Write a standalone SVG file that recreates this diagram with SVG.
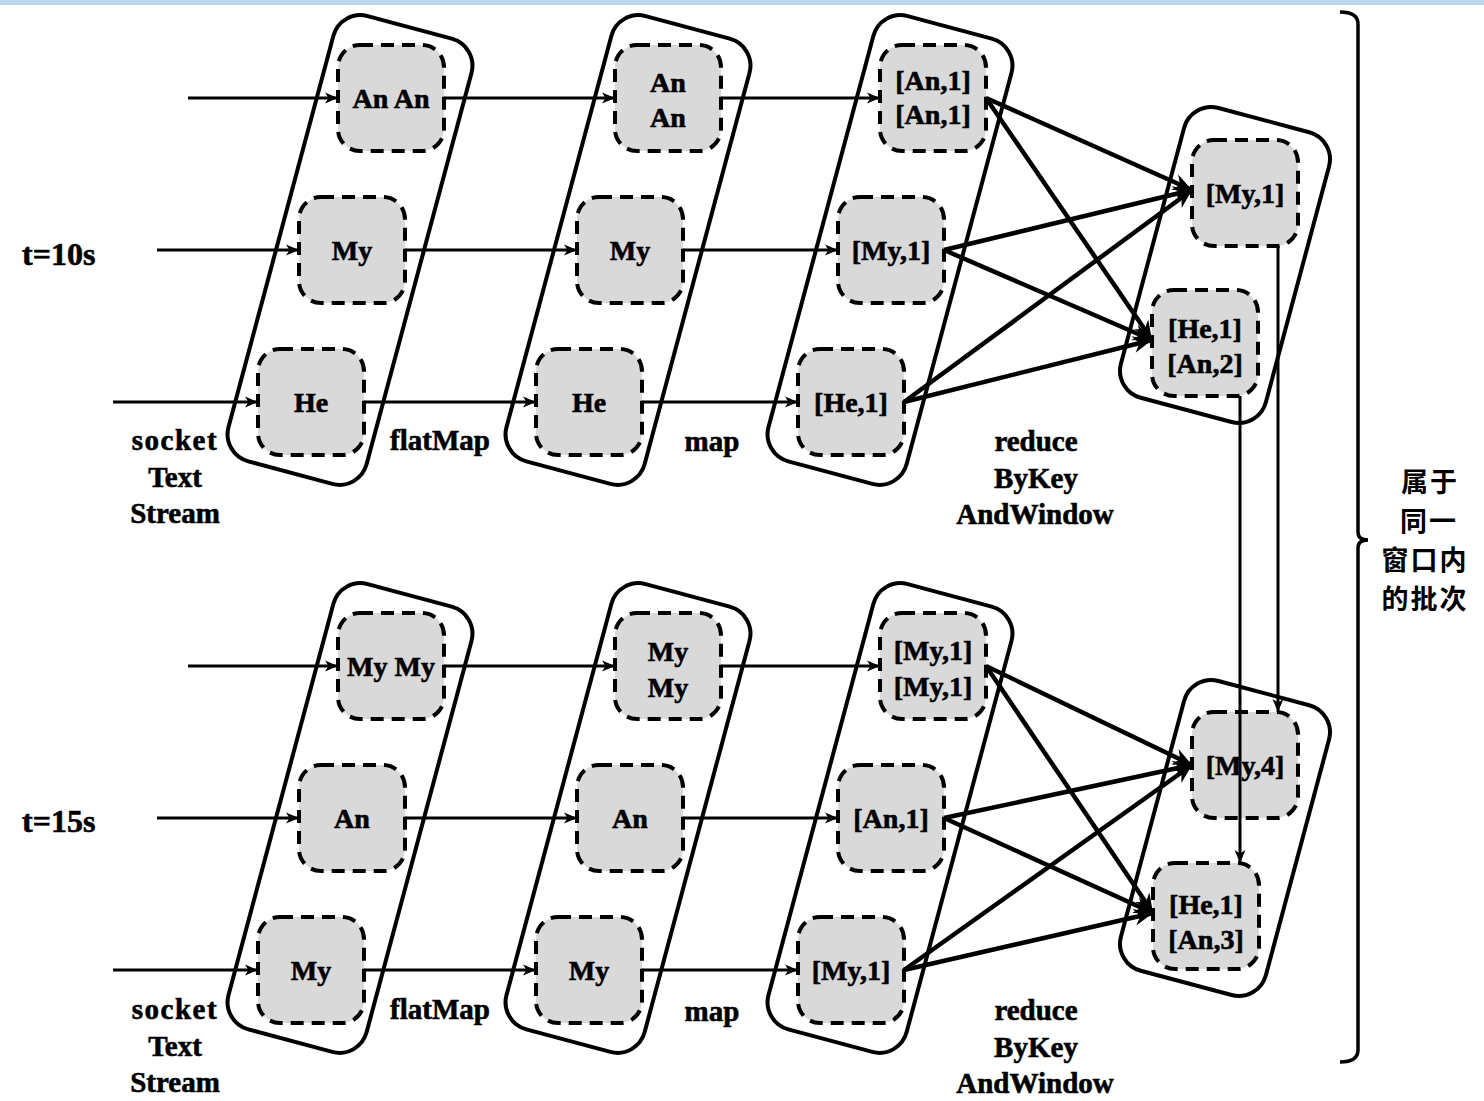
<svg xmlns="http://www.w3.org/2000/svg" width="1484" height="1101" viewBox="0 0 1484 1101">
<style>
.bg{fill:#ffffff}
.band{fill:#bdd7ee}
.stage{fill:none;stroke:#000;stroke-width:4}
.box{fill:#d9d9d9;stroke:#000;stroke-width:4;stroke-dasharray:13 8}
.t{font-family:"Liberation Serif","Times New Roman",serif;font-weight:bold;font-size:28px;fill:#000;stroke:#000;stroke-width:0.6;text-anchor:middle}
.lbl{font-family:"Liberation Serif","Times New Roman",serif;font-weight:bold;font-size:29px;fill:#000;stroke:#000;stroke-width:0.6;text-anchor:middle}
.time{font-family:"Liberation Serif","Times New Roman",serif;font-weight:bold;font-size:32px;fill:#000;stroke:#000;stroke-width:0.6}
.cjk{font-family:"Noto Sans CJK SC","Noto Sans",sans-serif;font-weight:bold;font-size:27px;fill:#000;text-anchor:middle;letter-spacing:2px}
.a{fill:none;stroke:#000;stroke-width:3;marker-end:url(#ah)}
.b{fill:none;stroke:#000;stroke-width:4.5;marker-end:url(#ahb)}
.brace{fill:none;stroke:#000;stroke-width:3.5}
</style>
<defs>
<marker id="ah" viewBox="-15 -7 16 14" refX="0" refY="0" markerWidth="16" markerHeight="14" markerUnits="userSpaceOnUse" orient="auto"><path d="M0,0 L-13,-5.5 L-9.5,0 L-13,5.5 Z" fill="#000"/></marker>
<marker id="ahb" viewBox="-21 -10 22 20" refX="0" refY="0" markerWidth="22" markerHeight="20" markerUnits="userSpaceOnUse" orient="auto"><path d="M0,0 L-19,-8.5 L-13,0 L-19,8.5 Z" fill="#000"/></marker>
</defs>
<rect class="bg" x="0" y="0" width="1484" height="1101"/>
<rect class="band" x="0" y="0" width="1484" height="5"/>

<g id="stages">
<rect id="stage-src-10" class="stage" x="-71.5" y="-230.5" width="143" height="461" rx="28" transform="translate(350,250) rotate(15)"/>
<rect id="stage-flat-10" class="stage" x="-71.5" y="-230.5" width="143" height="461" rx="28" transform="translate(628,250) rotate(15)"/>
<rect id="stage-map-10" class="stage" x="-71.5" y="-230.5" width="143" height="461" rx="28" transform="translate(890,250) rotate(15)"/>
<rect id="stage-red-10" class="stage" x="-75" y="-150" width="150" height="300" rx="28" transform="translate(1225,265) rotate(15)"/>
<rect id="stage-src-15" class="stage" x="-71.5" y="-230.5" width="143" height="461" rx="28" transform="translate(350,818) rotate(15)"/>
<rect id="stage-flat-15" class="stage" x="-71.5" y="-230.5" width="143" height="461" rx="28" transform="translate(628,818) rotate(15)"/>
<rect id="stage-map-15" class="stage" x="-71.5" y="-230.5" width="143" height="461" rx="28" transform="translate(890,818) rotate(15)"/>
<rect id="stage-red-15" class="stage" x="-75" y="-150" width="150" height="300" rx="28" transform="translate(1225,838) rotate(15)"/>
</g>

<!-- t=10s nodes -->
<g id="n-s10-1"><rect class="box" x="338" y="45" width="106" height="106" rx="22"/><text class="t" x="391" y="108">An An</text></g>
<g id="n-s10-2"><rect class="box" x="299" y="197" width="106" height="106" rx="22"/><text class="t" x="352" y="260">My</text></g>
<g id="n-s10-3"><rect class="box" x="258" y="349" width="106" height="106" rx="22"/><text class="t" x="311" y="412">He</text></g>
<g id="n-f10-1"><rect class="box" x="615" y="45" width="106" height="106" rx="22"/><text class="t" x="668" y="92">An</text><text class="t" x="668" y="127">An</text></g>
<g id="n-f10-2"><rect class="box" x="577" y="197" width="106" height="106" rx="22"/><text class="t" x="630" y="260">My</text></g>
<g id="n-f10-3"><rect class="box" x="536" y="349" width="106" height="106" rx="22"/><text class="t" x="589" y="412">He</text></g>
<g id="n-m10-1"><rect class="box" x="880" y="45" width="106" height="106" rx="22"/><text class="t" x="933" y="90">[An,1]</text><text class="t" x="933" y="124">[An,1]</text></g>
<g id="n-m10-2"><rect class="box" x="838" y="197" width="106" height="106" rx="22"/><text class="t" x="891" y="260">[My,1]</text></g>
<g id="n-m10-3"><rect class="box" x="798" y="349" width="106" height="106" rx="22"/><text class="t" x="851" y="412">[He,1]</text></g>
<g id="n-r10-1"><rect class="box" x="1192" y="140" width="106" height="106" rx="22"/><text class="t" x="1245" y="203">[My,1]</text></g>
<g id="n-r10-2"><rect class="box" x="1152" y="290" width="106" height="106" rx="22"/><text class="t" x="1205" y="338">[He,1]</text><text class="t" x="1205" y="373">[An,2]</text></g>

<!-- t=15s nodes -->
<g id="n-s15-1"><rect class="box" x="338" y="613" width="106" height="106" rx="22"/><text class="t" x="391" y="676">My My</text></g>
<g id="n-s15-2"><rect class="box" x="299" y="765" width="106" height="106" rx="22"/><text class="t" x="352" y="828">An</text></g>
<g id="n-s15-3"><rect class="box" x="258" y="917" width="106" height="106" rx="22"/><text class="t" x="311" y="980">My</text></g>
<g id="n-f15-1"><rect class="box" x="615" y="613" width="106" height="106" rx="22"/><text class="t" x="668" y="661">My</text><text class="t" x="668" y="697">My</text></g>
<g id="n-f15-2"><rect class="box" x="577" y="765" width="106" height="106" rx="22"/><text class="t" x="630" y="828">An</text></g>
<g id="n-f15-3"><rect class="box" x="536" y="917" width="106" height="106" rx="22"/><text class="t" x="589" y="980">My</text></g>
<g id="n-m15-1"><rect class="box" x="880" y="613" width="106" height="106" rx="22"/><text class="t" x="933" y="660">[My,1]</text><text class="t" x="933" y="696">[My,1]</text></g>
<g id="n-m15-2"><rect class="box" x="838" y="765" width="106" height="106" rx="22"/><text class="t" x="891" y="828">[An,1]</text></g>
<g id="n-m15-3"><rect class="box" x="798" y="917" width="106" height="106" rx="22"/><text class="t" x="851" y="980">[My,1]</text></g>
<g id="n-r15-1"><rect class="box" x="1192" y="712" width="106" height="106" rx="22"/><text class="t" x="1245" y="775">[My,4]</text></g>
<g id="n-r15-2"><rect class="box" x="1153" y="863" width="106" height="106" rx="22"/><text class="t" x="1206" y="914">[He,1]</text><text class="t" x="1206" y="949">[An,3]</text></g>

<g id="connectors">
<path class="a" d="M188,98 H338"/>
<path class="a" d="M157,250 H299"/>
<path class="a" d="M113,402 H258"/>
<path class="a" d="M444,98 L615,98"/>
<path class="a" d="M405,250 L577,250"/>
<path class="a" d="M364,402 L536,402"/>
<path class="a" d="M721,98 L880,98"/>
<path class="a" d="M683,250 L838,250"/>
<path class="a" d="M642,402 L798,402"/>
<path class="b" d="M986,98 L1192,190"/>
<path class="b" d="M986,98 L1152,340"/>
<path class="b" d="M944,250 L1192,190"/>
<path class="b" d="M944,250 L1152,340"/>
<path class="b" d="M904,402 L1192,190"/>
<path class="b" d="M904,402 L1152,340"/>
<path class="a" d="M1278,246 V712"/>
<path class="a" d="M1240,396 V863"/>
<path class="a" d="M188,666 H338"/>
<path class="a" d="M157,818 H299"/>
<path class="a" d="M113,970 H258"/>
<path class="a" d="M444,666 L615,666"/>
<path class="a" d="M405,818 L577,818"/>
<path class="a" d="M364,970 L536,970"/>
<path class="a" d="M721,666 L880,666"/>
<path class="a" d="M683,818 L838,818"/>
<path class="a" d="M642,970 L798,970"/>
<path class="b" d="M986,666 L1192,765"/>
<path class="b" d="M986,666 L1153,913"/>
<path class="b" d="M944,818 L1192,765"/>
<path class="b" d="M944,818 L1153,913"/>
<path class="b" d="M904,970 L1192,765"/>
<path class="b" d="M904,970 L1153,913"/>
</g>

<g id="labels">
<text class="time" x="22" y="265">t=10s</text>
<text class="time" x="22" y="832">t=15s</text>
<text class="lbl" x="175" y="450" letter-spacing="1.5">socket</text>
<text class="lbl" x="175" y="487">Text</text>
<text class="lbl" x="175" y="523">Stream</text>
<text class="lbl" x="440" y="450">flatMap</text>
<text class="lbl" x="712" y="451">map</text>
<text class="lbl" x="1036" y="451">reduce</text>
<text class="lbl" x="1036" y="488">ByKey</text>
<text class="lbl" x="1035" y="524">AndWindow</text>
<text class="lbl" x="175" y="1019" letter-spacing="1.5">socket</text>
<text class="lbl" x="175" y="1056">Text</text>
<text class="lbl" x="175" y="1092">Stream</text>
<text class="lbl" x="440" y="1019">flatMap</text>
<text class="lbl" x="712" y="1021">map</text>
<text class="lbl" x="1036" y="1020">reduce</text>
<text class="lbl" x="1036" y="1057">ByKey</text>
<text class="lbl" x="1035" y="1093">AndWindow</text>
</g>

<g id="window-brace">
<path class="brace" d="M1340,12 Q1358,12 1358,24 L1358,532 Q1358,540 1368,540 Q1358,540 1358,548 L1358,1050 Q1358,1062 1340,1062"/>
<text class="cjk"><tspan x="1430" y="492">属于</tspan><tspan x="1429" y="531">同一</tspan><tspan x="1425" y="570">窗口内</tspan><tspan x="1425" y="609">的批次</tspan></text>
</g>
</svg>
